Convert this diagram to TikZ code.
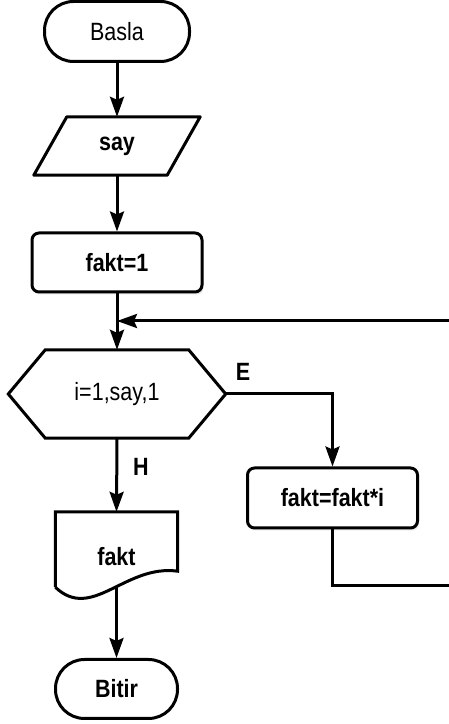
\documentclass[tikz,border=0pt]{standalone}
\usepackage{fontspec}
\setmainfont{Liberation Sans}[FakeStretch=0.86]
\usetikzlibrary{arrows.meta,shadows}

\tikzset{
  flow/.style={line width=3pt, -{Stealth[length=20pt,width=14pt,inset=3pt]}},
  edge/.style={line width=3pt},
  txt/.style={font=\fontsize{25}{30}\selectfont, inner sep=0pt},
  terminal/.style={txt, draw, line width=3pt, rounded corners=29pt},
  process/.style={txt, font=\fontsize{25}{30}\selectfont\bfseries, draw, line width=3pt,
    rounded corners=7pt, fill=white,
    drop shadow={opacity=0.18, shadow xshift=1.5pt, shadow yshift=-2.5pt}},
  lbl/.style={txt, font=\fontsize{25}{30}\selectfont\bfseries},
}

\begin{document}
\begin{tikzpicture}[x=1pt,y=1pt]
\useasboundingbox (0,0) rectangle (448,724);

% start / end
\node[terminal, minimum width=145pt, minimum height=60pt] (start) at (117,692.5) {Basla};
\node[terminal, font=\fontsize{25}{30}\selectfont\bfseries,
      minimum width=122pt, minimum height=59pt] (stop) at (116.5,35) {Bitir};

% input (parallelogram)
\node[txt, font=\fontsize{25}{30}\selectfont\bfseries,
      minimum width=166pt, minimum height=58pt] (say) at (117,578) {say};
\draw[edge, line join=round] (say.south west) -- ([xshift=33pt]say.north west)
  -- (say.north east) -- ([xshift=-33pt]say.south east) -- cycle;

% processes
\node[process, minimum width=170pt, minimum height=59pt] (init) at (117,461.5) {fakt=1};
\node[process, minimum width=170pt, minimum height=60pt] (body) at (332.5,226) {fakt=fakt*i};

% loop (hexagon)
\node[txt, minimum width=217pt, minimum height=88pt] (loop) at (117,330) {i=1,say,1};
\draw[edge] (loop.west) -- ([xshift=37pt]loop.north west)
  -- ([xshift=-37pt]loop.north east) -- (loop.east)
  -- ([xshift=-37pt]loop.south east) -- ([xshift=37pt]loop.south west) -- cycle;

% output (document)
\node[txt, minimum width=122pt, minimum height=75pt] (out) at (116.5,174.5) {};
\node[txt, font=\fontsize{25}{30}\selectfont\bfseries] (outtxt) at (116.5,167) {fakt};
\draw[edge] (out.south west) -- (out.north west) -- (out.north east)
  -- ([yshift=16pt]out.south east)
  .. controls (125,160) and (92,102) .. (out.south west);

% branch labels
\node[lbl] (yes) at (243,352) {E};
\node[lbl] (no) at (141,257) {H};

\coordinate (join) at (117,403);
\coordinate (back) at (452,138);

% connectors
\draw[flow] (start) -- (say);
\draw[flow] (say.south) -- (init);
\draw[flow] (init) -- (loop.north);
\draw[flow] (loop.east) -| (body.north);
\draw[flow] (body.south) |- (back) |- (join);
\draw[flow] (loop.south) -- (out.north);
\draw[flow] (out.south) -- (stop);

\end{tikzpicture}
\end{document}
